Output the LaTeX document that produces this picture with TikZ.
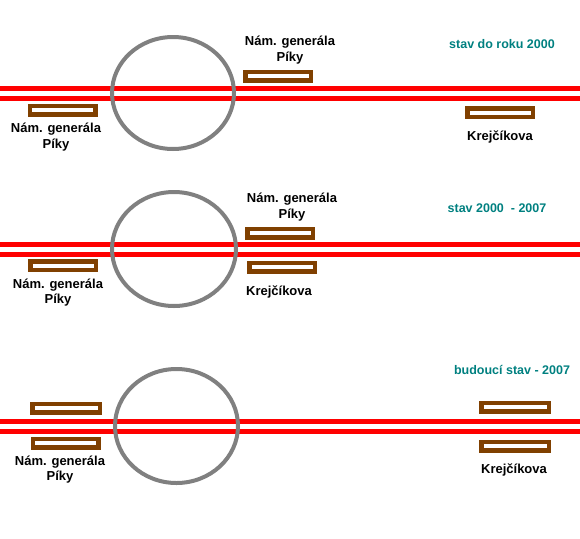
\documentclass[tikz,border=0pt]{standalone}
\usepackage{fontspec}
\usetikzlibrary{shapes.geometric}
\setmainfont{Liberation Sans}
\definecolor{railred}{RGB}{255,0,0}
\definecolor{stopbrown}{RGB}{128,64,0}
\definecolor{ringgray}{RGB}{128,128,128}
\definecolor{titleteal}{RGB}{0,128,128}
\tikzset{
  rail/.style={draw=railred, line width=5pt},
  ring/.style={draw=ringgray, line width=4pt, ellipse, inner sep=0pt},
  stopbox/.style={draw=stopbrown, fill=white, line width=4.5pt, rectangle, inner sep=0pt, minimum width=65.5pt, minimum height=8.5pt},
  lbl/.style={font=\fontsize{13}{16}\selectfont\bfseries, text=black, align=center, inner sep=0pt},
  ttl/.style={font=\fontsize{12.5}{15}\selectfont\bfseries, text=titleteal, inner sep=0pt}
}
\begin{document}
\begin{tikzpicture}[x=1pt,y=-1pt]
\useasboundingbox (0,0) rectangle (580,538);
% ---------- section 1 ----------
\coordinate (r1aL) at (0,88.5);  \coordinate (r1aR) at (580,88.5);
\coordinate (r1bL) at (0,98.5);  \coordinate (r1bR) at (580,98.5);
\draw[rail] (r1aL) -- (r1aR);
\draw[rail] (r1bL) -- (r1bR);
\node[ring, minimum width=122pt, minimum height=112pt] (c1) at (173,93) {};
\node[stopbox] (b1t) at (278,76) {};
\node[stopbox] (b1l) at (62.5,110) {};
\node[stopbox] (b1r) at (500,112.5) {};
\node[lbl] (t1t) at (290,50) {Nám. generála\\[-0.5pt]Píky};
\node[lbl] (t1l) at (56,137) {Nám. generála\\[-0.5pt]Píky};
\node[lbl] (t1r) at (500,137) {Krejčíkova};
\node[ttl] (h1) at (502,44.5) {stav do roku 2000};
% ---------- section 2 ----------
\coordinate (r2aL) at (0,244);  \coordinate (r2aR) at (580,244);
\coordinate (r2bL) at (0,254);  \coordinate (r2bR) at (580,254);
\draw[rail] (r2aL) -- (r2aR);
\draw[rail] (r2bL) -- (r2bR);
\node[ring, minimum width=124pt, minimum height=114pt] (c2) at (174,249) {};
\node[stopbox] (b2t) at (280,233) {};
\node[stopbox] (b2b) at (282,267) {};
\node[stopbox] (b2l) at (63,265.5) {};
\node[lbl] (t2t) at (292,207) {Nám. generála\\[-0.5pt]Píky};
\node[lbl] (t2l) at (58,292.5) {Nám. generála\\[-0.5pt]Píky};
\node[lbl] (t2r) at (279,292) {Krejčíkova};
\node[ttl] (h2) at (497,208.5) {stav 2000 \ - 2007};
% ---------- section 3 ----------
\coordinate (r3aL) at (0,421.5);  \coordinate (r3aR) at (580,421.5);
\coordinate (r3bL) at (0,431.5);  \coordinate (r3bR) at (580,431.5);
\draw[rail] (r3aL) -- (r3aR);
\draw[rail] (r3bL) -- (r3bR);
\node[ring, minimum width=123pt, minimum height=114pt] (c3) at (176.5,426) {};
\node[stopbox, minimum width=67.5pt] (b3lt) at (66,408) {};
\node[stopbox] (b3lb) at (65.5,443) {};
\node[stopbox, minimum width=67.5pt] (b3rt) at (515,407) {};
\node[stopbox, minimum width=67.5pt] (b3rb) at (515,446) {};
\node[lbl] (t3l) at (60,469.5) {Nám. generála\\[-0.5pt]Píky};
\node[lbl] (t3r) at (514,470) {Krejčíkova};
\node[ttl] (h3) at (512,370) {budoucí stav - 2007};
\end{tikzpicture}
\end{document}
